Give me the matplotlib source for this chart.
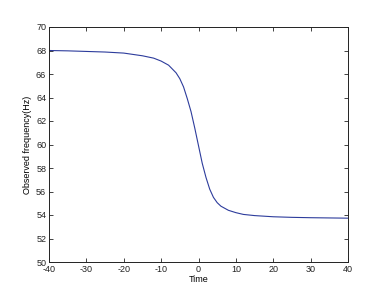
import matplotlib.pyplot as plt

# frequency response
time = [-40, -35, -30, -25, -20, -15, -12, -10, -8, -6, -5, -4, -3, -2, -1,
        0, 1, 2, 3, 4, 5, 6, 8, 10, 12, 15, 20, 25, 30, 35, 40]
freq = [68.0, 67.97, 67.92, 67.87, 67.78, 67.55, 67.35, 67.1, 66.75, 66.1,
        65.6, 64.9, 63.9, 62.8, 61.4, 59.9, 58.4, 57.2, 56.2, 55.5, 55.05,
        54.75, 54.4, 54.2, 54.05, 53.95, 53.85, 53.8, 53.77, 53.75, 53.73]
xticks = [-40, -30, -20, -10, 0, 10, 20, 30, 40]
yticks = [50, 52, 54, 56, 58, 60, 62, 64, 66, 68, 70]

plt.rcParams['font.family'] = ['Liberation Sans', 'DejaVu Sans']
plt.rcParams['axes.unicode_minus'] = False

fig = plt.figure(figsize=(3.69, 2.94), dpi=100)
ax = fig.add_axes([49 / 369, 1 - 262 / 294, 299 / 369, 235 / 294])
ax.plot(time, freq, color='#2d3c9c', linewidth=0.8)

ax.set_xlim(-40, 40)
ax.set_ylim(50, 70)
ax.set_xticks(xticks)
ax.set_yticks(yticks)
ax.tick_params(direction='in', top=True, right=True, labelsize=6.5,
               length=3, width=0.6, pad=2, colors='#222222')
for s in ax.spines.values():
    s.set_linewidth(0.7)
    s.set_color('#222222')

ax.set_xlabel("Time", fontsize=6.5, labelpad=1)
ax.set_ylabel("Observed frequency(Hz)", fontsize=6.5, labelpad=3)

fig.savefig("out.png", dpi=100)
